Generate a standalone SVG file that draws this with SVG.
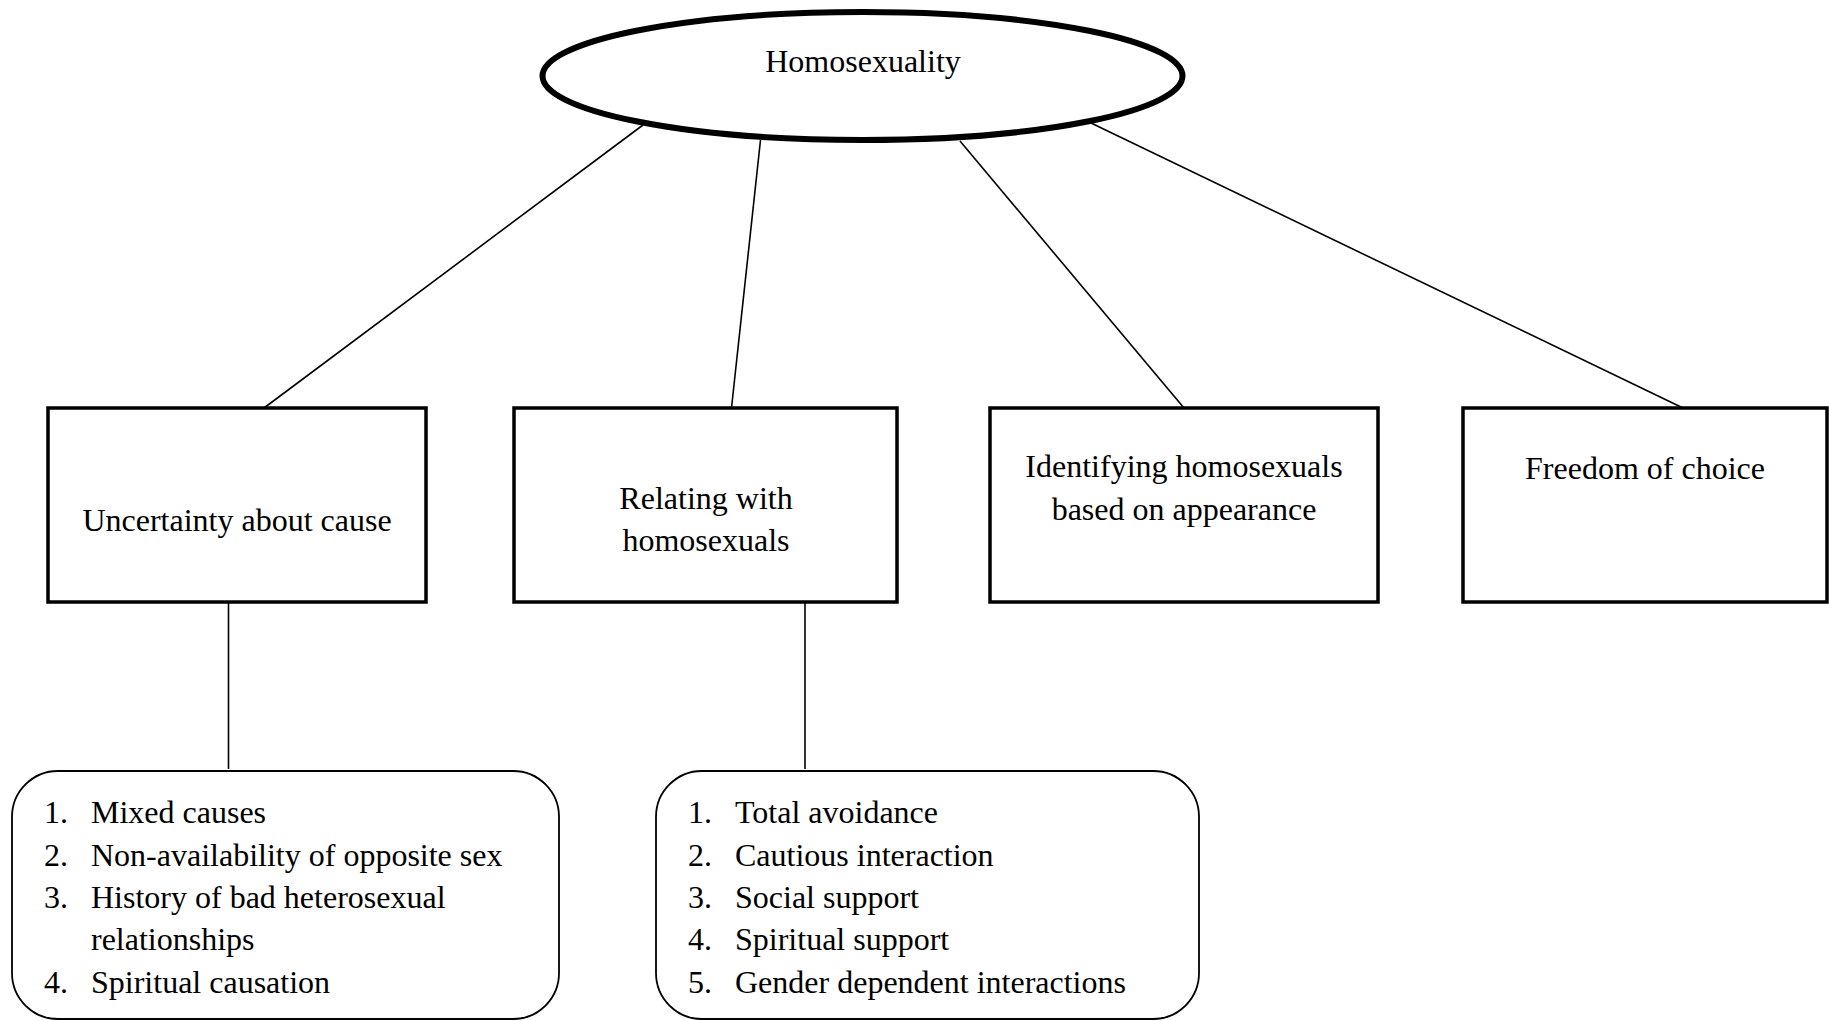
<svg xmlns="http://www.w3.org/2000/svg" width="1829" height="1021" viewBox="0 0 1829 1021">
  <style>
    .bg { fill: #ffffff; }
    .oval { fill: #ffffff; stroke: #000000; stroke-width: 6; }
    .box { fill: #ffffff; stroke: #000000; stroke-width: 3.5; }
    .list { fill: #ffffff; stroke: #000000; stroke-width: 1.8; }
    .link { stroke: #000000; stroke-width: 1.6; fill: none; }
    text { font-family: "Liberation Serif", "Times New Roman", serif; font-size: 32px; fill: #000000; }
    .c { text-anchor: middle; }
  </style>
  <rect class="bg" x="0" y="0" width="1829" height="1021"/>

  <!-- connectors -->
  <g id="connectors">
    <line class="link" x1="643" y1="125" x2="264" y2="408"/>
    <line class="link" x1="760.5" y1="140" x2="731.5" y2="408"/>
    <line class="link" x1="960" y1="141" x2="1184" y2="408"/>
    <line class="link" x1="1091" y1="123" x2="1683" y2="408"/>
    <line class="link" x1="228.5" y1="602" x2="228.5" y2="769"/>
    <line class="link" x1="805" y1="602" x2="805" y2="769"/>
  </g>

  <!-- root concept -->
  <g id="node-root">
    <ellipse class="oval" cx="862.5" cy="76" rx="320" ry="64"/>
    <text class="c" x="863" y="72">Homosexuality</text>
  </g>

  <!-- themes -->
  <g id="node-cause">
    <rect class="box" x="48" y="408" width="378" height="194"/>
    <text class="c" x="237" y="531">Uncertainty about cause</text>
  </g>
  <g id="node-relating">
    <rect class="box" x="514" y="408" width="383" height="194"/>
    <text class="c" x="706" y="509">Relating with</text>
    <text class="c" x="706" y="551">homosexuals</text>
  </g>
  <g id="node-identifying">
    <rect class="box" x="990" y="408" width="388" height="194"/>
    <text class="c" x="1184" y="477">Identifying homosexuals</text>
    <text class="c" x="1184" y="520">based on appearance</text>
  </g>
  <g id="node-freedom">
    <rect class="box" x="1463" y="408" width="364" height="194"/>
    <text class="c" x="1645" y="479">Freedom of choice</text>
  </g>

  <!-- sub-themes -->
  <g id="node-cause-list">
    <rect class="list" x="12" y="771" width="547" height="248" rx="46" ry="46"/>
    <text x="44" y="823">1.</text><text x="91" y="823">Mixed causes</text>
    <text x="44" y="866">2.</text><text x="91" y="866">Non-availability of opposite sex</text>
    <text x="44" y="908">3.</text><text x="91" y="908">History of bad heterosexual</text>
    <text x="91" y="950">relationships</text>
    <text x="44" y="993">4.</text><text x="91" y="993">Spiritual causation</text>
  </g>
  <g id="node-relating-list">
    <rect class="list" x="656" y="771" width="543" height="248" rx="46" ry="46"/>
    <text x="688" y="823">1.</text><text x="735" y="823">Total avoidance</text>
    <text x="688" y="866">2.</text><text x="735" y="866">Cautious interaction</text>
    <text x="688" y="908">3.</text><text x="735" y="908">Social support</text>
    <text x="688" y="950">4.</text><text x="735" y="950">Spiritual support</text>
    <text x="688" y="993">5.</text><text x="735" y="993">Gender dependent interactions</text>
  </g>
</svg>
